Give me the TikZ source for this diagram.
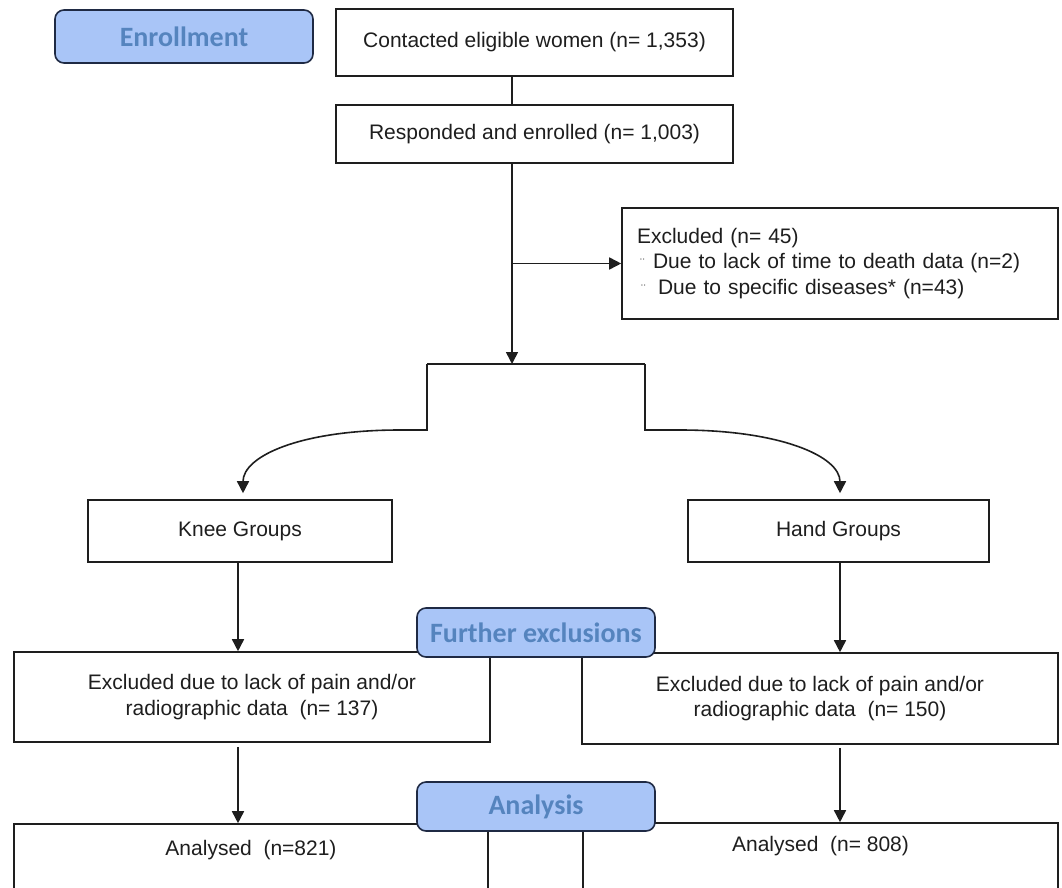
\documentclass[tikz,border=0pt]{standalone}
\usepackage{fontspec}
\setmainfont{Liberation Sans}
\newfontfamily\hdrfont{Carlito}
\usetikzlibrary{arrows.meta}
\definecolor{hdrfill}{HTML}{A9C5F7}
\definecolor{hdrtext}{HTML}{5584BE}
\definecolor{hdrline}{HTML}{1F2A44}
\definecolor{ink}{HTML}{1E1E1E}
\definecolor{bul}{HTML}{7A7A7A}
\tikzset{
  flowbox/.style={draw=ink, line width=1.6pt, fill=white, inner sep=0pt,
    text=ink, font=\fontsize{21}{25.5}\selectfont, align=center},
  hdrbox/.style={draw=hdrline, line width=1.6pt, fill=hdrfill, rounded corners=9pt,
    inner sep=0pt, text=hdrtext, font=\hdrfont\bfseries\fontsize{28}{30}\selectfont},
  conn/.style={draw=ink, line width=1.6pt},
  arr/.style={conn, -{Triangle[length=12pt,width=12pt]}}
}
\begin{document}
\begin{tikzpicture}[x=1pt,y=-1pt]
\useasboundingbox (0,0) rectangle (1062,888);
\fill[white] (0,0) rectangle (1062,888);
\begin{scope}
\clip (0,0) rectangle (1062,888);
% reference coordinates
\coordinate (trunk) at (512,0);
\coordinate (lk) at (238,0);
\coordinate (rk) at (840,0);
% boxes
\node[flowbox, minimum width=397pt, minimum height=67pt] (con) at (534.5,42.5) {Contacted eligible women (n= 1,353)};
\node[flowbox, minimum width=397pt, minimum height=58pt] (res) at (534.5,134) {Responded and enrolled (n= 1,003)};
\node[flowbox, minimum width=436pt, minimum height=111pt, text width=406pt, align=left] (exc) at (840,263.5) {Excluded (n= 45)\\
\makebox[16pt][l]{\hspace{3pt}{\color{bul}\fontsize{14}{14}\selectfont ¨}}Due to lack of time to death data (n=2)\\
\makebox[21pt][l]{\hspace{4pt}{\color{bul}\fontsize{14}{14}\selectfont ¨}}Due to specific diseases* (n=43)};
\node[flowbox, minimum width=304pt, minimum height=62pt] (knee) at (240,531) {Knee Groups};
\node[flowbox, minimum width=301pt, minimum height=62pt] (hand) at (838.5,531) {Hand Groups};
\node[flowbox, minimum width=476pt, minimum height=90pt] (exK) at (252,697) {Excluded due to lack of pain and/or\\radiographic data\ \ (n= 137)};
\node[flowbox, minimum width=476pt, minimum height=91pt] (exH) at (820,698.5) {Excluded due to lack of pain and/or\\radiographic data\ \ (n= 150)};
\node[flowbox, minimum width=474pt, minimum height=76pt, text height=15pt, text depth=29pt] (anK) at (251,862) {Analysed\ \ (n=821)};
\node[flowbox, minimum width=475pt, minimum height=78pt, text height=15pt, text depth=37pt] (anH) at (820.5,862) {Analysed\ \ (n= 808)};
% connectors
\draw[conn] (con.south -| trunk) -- (res.north -| trunk);
\coordinate (bl) at (427,364);
\coordinate (br) at (645,364);
\draw[arr] (res.south -| trunk) -- (bl -| trunk);
\draw[arr] (exc.west -| trunk) -- (exc.west);
\draw[conn] (bl) -- (br);
\draw[arr, shorten >=6pt] (bl) -- (427,430) -- (400,430) .. controls +(-100,0) and +(0,-43) .. ([xshift=3pt]knee.north);
\draw[arr, shorten >=6pt] (br) -- (645,430) -- (680,430) .. controls +(100,0) and +(0,-43) .. (hand.north -| rk);
\draw[arr] (knee.south -| lk) -- (exK.north -| lk);
\draw[arr] (hand.south -| rk) -- (exH.north -| rk);
\draw[arr, shorten <=4pt] (exK.south -| lk) -- (anK.north -| lk);
\draw[arr, shorten <=3pt] (exH.south -| rk) -- (anH.north -| rk);
% section headers
\node[hdrbox, minimum width=258pt, minimum height=53pt] (enr) at (184,36.5) {Enrollment};
\node[hdrbox, minimum width=238pt, minimum height=49pt] (fur) at (536,632.5) {Further exclusions};
\node[hdrbox, minimum width=238pt, minimum height=49pt] (ana) at (536,806.5) {Analysis};
\end{scope}
\end{tikzpicture}
\end{document}
